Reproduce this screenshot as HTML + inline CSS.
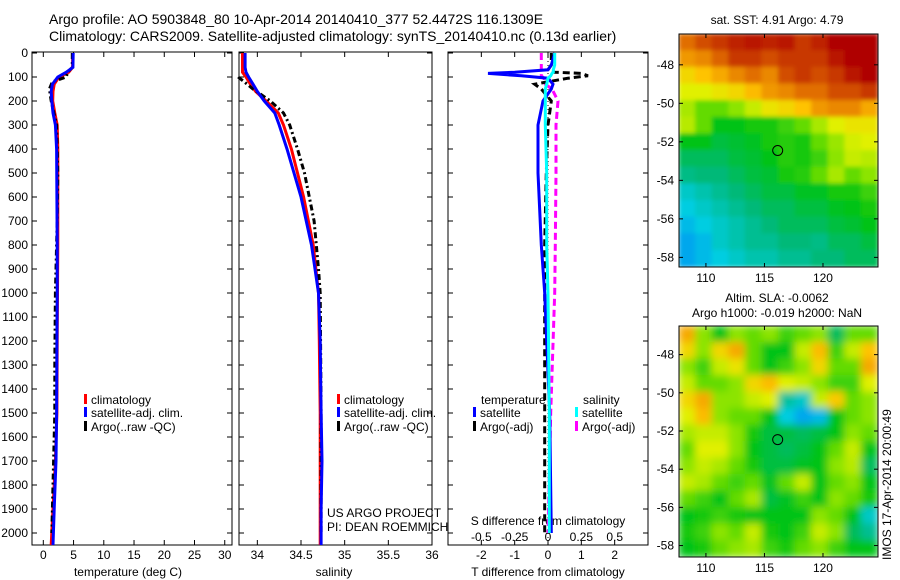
<!DOCTYPE html>
<html><head><meta charset="utf-8"><style>
html,body{margin:0;padding:0;background:#fff;}
svg{display:block;font-family:"Liberation Sans",sans-serif;}
</style></head><body>
<svg id="fig" width="900" height="580" viewBox="0 0 900 580">
<text x="49" y="24" font-size="14">Argo profile: AO 5903848_80 10-Apr-2014 20140410_377 52.4472S 116.1309E</text>
<text x="49" y="41" font-size="14">Climatology: CARS2009. Satellite-adjusted climatology: synTS_20140410.nc (0.13d earlier)</text>
<g id="g1"></g>
<g id="g2"></g>
<g id="g3"></g>
<g id="m1"></g>
<g id="m2"></g>
<text x="777" y="24" font-size="12" text-anchor="middle">sat. SST: 4.91 Argo: 4.79</text>
<text x="777" y="302" font-size="12" text-anchor="middle">Altim. SLA: -0.0062</text>
<text x="777" y="317" font-size="12" text-anchor="middle">Argo h1000: -0.019 h2000: NaN</text>
<text transform="translate(891,560) rotate(-90)" font-size="12">IMOS 17-Apr-2014 20:00:49</text>
</svg>
<script>
// ---- data ----
const depthTicks=[0,100,200,300,400,500,600,700,800,900,1000,1100,1200,1300,1400,1500,1600,1700,1800,1900,2000];
const tTicks=[0,5,10,15,20,25,30];
const sTicks=[34,34.5,35,35.5,36];
const dTTicks=[-2,-1,0,1,2];
const dTLabels=["-2","-1","0","1","2"];
const dSTicks=[-0.5,-0.25,0,0.25,0.5];
const dSLabels=["-0.5","-0.25","0","0.25","0.5"];

const climDepth=[0,60,80,100,130,160,200,250,300,400,600,800,1000,1200,1500,1700,1900,2050];
const climT=[4.85,4.85,4.2,2.6,1.8,1.6,1.55,1.9,2.3,2.4,2.4,2.4,2.35,2.3,2.25,2.0,1.6,1.3];
const satT=[4.95,4.9,3.8,2.4,1.5,1.3,1.4,1.6,2.0,2.2,2.25,2.3,2.3,2.25,2.2,2.1,1.8,1.6];
const argoDepth=[0,60,80,100,120,150,200,300,500,700,1000,1300,1500,1700,1900,2000];
const argoT=[4.8,4.8,4.0,3.8,1.5,1.0,1.3,2.2,2.4,2.3,2.0,1.9,1.9,1.7,1.5,1.4];

const climS=[33.83,33.83,33.83,33.87,33.92,33.98,34.1,34.24,34.3,34.39,34.53,34.64,34.7,34.71,34.72,34.72,34.72,34.72];
const satS=[33.86,33.86,33.87,33.9,33.95,34.0,34.08,34.2,34.25,34.34,34.5,34.62,34.7,34.72,34.73,34.74,34.73,34.73];
const argoSDepth=[100,120,150,200,250,300,400,500,700,900,1000,1500,2000];
const argoS=[33.78,33.85,33.95,34.15,34.3,34.37,34.46,34.54,34.65,34.7,34.72,34.73,34.73];

const diffDepth=[0,50,70,80,85,95,105,130,150,200,300,500,800,1000,1500,2000];
const satDT=[0.2,0.1,0,-1.0,-1.8,-0.8,0,0.15,0.1,-0.15,-0.3,-0.3,-0.2,-0.1,0.05,0.1];
const argoDT=[0.1,0.1,0,0.2,1.0,1.2,0.6,-0.4,-0.2,0.1,0,-0.05,-0.1,-0.1,-0.1,-0.1];
const satDS=[0.05,0.05,0.04,0.04,0.03,0.02,0.0,-0.01,-0.02,-0.02,-0.02,-0.01,-0.01,0,0.01,0.01];
const argoDS=[-0.05,-0.05,-0.05,-0.06,-0.05,-0.05,-0.03,-0.02,0.03,0.075,0.06,0.06,0.055,0.05,0.02,0.0];

const sstGrid=[
[0.85,0.88,0.9,0.92,0.93,0.92,0.93,0.9,0.92,0.95,0.95,0.95],
[0.8,0.82,0.86,0.9,0.9,0.88,0.9,0.9,0.9,0.93,0.95,0.95],
[0.72,0.75,0.78,0.82,0.85,0.82,0.88,0.9,0.88,0.9,0.93,0.95],
[0.68,0.68,0.7,0.72,0.76,0.8,0.82,0.85,0.85,0.88,0.88,0.9],
[0.64,0.6,0.6,0.62,0.66,0.7,0.72,0.75,0.8,0.82,0.82,0.78],
[0.65,0.6,0.55,0.55,0.56,0.56,0.58,0.6,0.64,0.68,0.7,0.7],
[0.55,0.55,0.52,0.53,0.54,0.56,0.57,0.56,0.6,0.63,0.67,0.68],
[0.5,0.5,0.5,0.52,0.53,0.55,0.57,0.56,0.58,0.62,0.66,0.65],
[0.47,0.48,0.48,0.5,0.52,0.53,0.56,0.57,0.6,0.64,0.6,0.62],
[0.42,0.44,0.46,0.48,0.5,0.52,0.52,0.54,0.54,0.56,0.56,0.58],
[0.4,0.42,0.44,0.46,0.48,0.5,0.5,0.52,0.52,0.54,0.55,0.56],
[0.38,0.4,0.42,0.44,0.46,0.48,0.5,0.5,0.5,0.52,0.53,0.55],
[0.36,0.38,0.42,0.44,0.46,0.46,0.48,0.48,0.47,0.5,0.5,0.52],
[0.36,0.38,0.4,0.42,0.44,0.44,0.46,0.46,0.48,0.48,0.5,0.5]];
const slaGrid=[
[0.78,0.62,0.55,0.62,0.6,0.62,0.58,0.6,0.62,0.5,0.6,0.6],
[0.72,0.62,0.72,0.78,0.6,0.55,0.55,0.66,0.76,0.58,0.66,0.75],
[0.62,0.58,0.66,0.7,0.6,0.55,0.58,0.62,0.72,0.6,0.6,0.78],
[0.66,0.6,0.6,0.62,0.72,0.76,0.68,0.66,0.62,0.58,0.58,0.68],
[0.72,0.78,0.62,0.62,0.66,0.68,0.45,0.42,0.66,0.74,0.6,0.62],
[0.68,0.76,0.62,0.6,0.6,0.55,0.4,0.36,0.38,0.55,0.6,0.62],
[0.64,0.66,0.66,0.62,0.56,0.52,0.52,0.5,0.52,0.55,0.62,0.6],
[0.6,0.68,0.68,0.62,0.55,0.52,0.5,0.52,0.55,0.6,0.66,0.55],
[0.62,0.66,0.64,0.6,0.56,0.52,0.52,0.54,0.55,0.62,0.65,0.5],
[0.66,0.64,0.6,0.58,0.6,0.54,0.6,0.66,0.55,0.6,0.62,0.55],
[0.6,0.58,0.55,0.6,0.64,0.52,0.54,0.58,0.55,0.62,0.6,0.56],
[0.55,0.56,0.58,0.56,0.55,0.55,0.55,0.55,0.62,0.6,0.55,0.42],
[0.56,0.58,0.62,0.6,0.66,0.56,0.55,0.58,0.66,0.62,0.5,0.46],
[0.55,0.56,0.6,0.62,0.64,0.58,0.56,0.6,0.62,0.58,0.55,0.55]];
const lonTicks=[110,115,120];
const latTicks=[-48,-50,-52,-54,-56,-58];
const floatLon=116.13, floatLat=-52.45;

// ---- helpers ----
const NS="http://www.w3.org/2000/svg";
function mk(parent,tag,attrs){const e=document.createElementNS(NS,tag);for(const k in attrs)e.setAttribute(k,attrs[k]);parent.appendChild(e);return e;}
function txt(parent,x,y,s,anchor,size){const t=mk(parent,'text',{x:x,y:y,'font-size':size||12,'text-anchor':anchor||'start'});t.textContent=s;return t;}
const Y0=53,Y1=545;
function yD(d){return Y0+d*0.24;}
function linear(d0,d1,r0,r1){return v=>r0+(v-d0)/(d1-d0)*(r1-r0);}

function frame(g,x0,x1){
  const r=mk(g,'rect',{x:x0,y:Y0-1,width:x1-x0,height:Y1-Y0+1,fill:'none',stroke:'#000','stroke-width':1});
  
  
  depthTicks.forEach(d=>{mk(g,'line',{x1:x0,x2:x0+5,y1:yD(d),y2:yD(d),stroke:'#000'});mk(g,'line',{x1:x1,x2:x1-5,y1:yD(d),y2:yD(d),stroke:'#000'});});
}
function xticks(g,vals,labels,sx,ly){
  vals.forEach((v,i)=>{const x=sx(v);mk(g,'line',{x1:x,x2:x,y1:Y1,y2:Y1-5,stroke:'#000'});mk(g,'line',{x1:x,x2:x,y1:Y0-1,y2:Y0+4,stroke:'#000'});
    const t=txt(g,x,ly,labels[i],'middle');});
}
function path(g,xs,ds,sx,color,w,dash,name){
  let s='';xs.forEach((v,i)=>{s+=(i?'L':'M')+sx(v).toFixed(1)+','+yD(ds[i]).toFixed(1);});
  const p=mk(g,'path',{d:s,fill:'none',stroke:color,'stroke-width':w});
  if(dash)p.setAttribute('stroke-dasharray',dash);
  
  
}
function legend(g,x,y,color,label,name){
  mk(g,'rect',{x:x,y:y-10,width:3,height:10,fill:color});
  const t=txt(g,x+7,y,label);
  
  
}

// ---- panel 1 ----
const g1=document.getElementById('g1');
const sx1=linear(-1.87,31.2,32,232);
frame(g1,32,232);
depthTicks.forEach(d=>{const t=txt(g1,28,yD(d)+4,String(d),'end');});
xticks(g1,tTicks,tTicks.map(String),sx1,559);
path(g1,climT,climDepth,sx1,'#f00',3,null,'climatology-temperature-line');
path(g1,argoT,argoDepth,sx1,'#000',3,'6,3,2,3','argo-temperature-line');
path(g1,satT,climDepth,sx1,'#00f',3,null,'satellite-temperature-line');
legend(g1,84,404,'#f00','climatology','legend-climatology');
legend(g1,84,417,'#00f','satellite-adj. clim.','legend-satellite');
legend(g1,84,431,'#000','Argo(..raw -QC)','legend-argo');
{const t=txt(g1,128,576,'temperature (deg C)','middle');}

// ---- panel 2 ----
const g2=document.getElementById('g2');
const sx2=linear(33.79,36,239,432);
frame(g2,239,432);
xticks(g2,sTicks,sTicks.map(String),sx2,559);
path(g2,climS,climDepth,sx2,'#f00',3,null,'climatology-salinity-line');
path(g2,argoS,argoSDepth,sx2,'#000',3,'6,3,2,3','argo-salinity-line');
path(g2,satS,climDepth,sx2,'#00f',3,null,'satellite-salinity-line');
legend(g2,337,404,'#f00','climatology','legend-climatology');
legend(g2,337,417,'#00f','satellite-adj. clim.','legend-satellite');
legend(g2,337,431,'#000','Argo(..raw -QC)','legend-argo');
txt(g2,327,517,'US ARGO PROJECT');
txt(g2,327,531,'PI: DEAN ROEMMICH');
{const t=txt(g2,334,576,'salinity','middle');}

// ---- panel 3 ----
const g3=document.getElementById('g3');
const sxT=linear(-3,3,448,648);
const sxS=linear(-0.75,0.75,448,648);
frame(g3,448,648);
xticks(g3,dTTicks,dTLabels,sxT,559);
dSTicks.forEach((v,i)=>{const t=txt(g3,sxS(v),541,dSLabels[i],'middle');});
txt(g3,548,525,'S difference from climatology','middle');
mk(g3,'line',{x1:sxT(0),x2:sxT(0),y1:Y0,y2:Y1,stroke:'#000','stroke-dasharray':'1,3'});
path(g3,argoDT,diffDepth,sxT,'#000',3,'7,4','argo-t-diff-line');
path(g3,argoDS,diffDepth,sxS,'#f0f',3,'7,4','argo-s-diff-line');
path(g3,satDT,diffDepth,sxT,'#00f',3,null,'satellite-t-diff-line');
path(g3,satDS,diffDepth,sxS,'#0ff',3,null,'satellite-s-diff-line');
txt(g3,481,404,'temperature');
legend(g3,473,417,'#00f','satellite','legend-t-satellite');
legend(g3,473,431,'#000','Argo(-adj)','legend-t-argo');
txt(g3,583,404,'salinity');
legend(g3,575,417,'#0ff','satellite','legend-s-satellite');
legend(g3,575,431,'#f0f','Argo(-adj)','legend-s-argo');
{const t=txt(g3,548,576,'T difference from climatology','middle');}

// ---- maps ----
const cmapStops=[[0.30,0,110,255],[0.40,0,205,225],[0.48,0,185,120],[0.55,0,195,20],[0.62,140,228,0],[0.68,225,240,0],[0.75,255,195,0],[0.85,225,110,0],[0.95,175,0,0]];
function cmap(v){
  if(v<=cmapStops[0][0])return `rgb(${cmapStops[0][1]},${cmapStops[0][2]},${cmapStops[0][3]})`;
  for(let i=1;i<cmapStops.length;i++){
    if(v<=cmapStops[i][0]){const a=cmapStops[i-1],b=cmapStops[i],t=(v-a[0])/(b[0]-a[0]);
      return `rgb(${Math.round(a[1]+t*(b[1]-a[1]))},${Math.round(a[2]+t*(b[2]-a[2]))},${Math.round(a[3]+t*(b[3]-a[3]))})`;}
  }
  const l=cmapStops[cmapStops.length-1];return `rgb(${l[1]},${l[2]},${l[3]})`;
}
function drawMap(id,grid,top,bot,latTop,latBot,blur){
  const g=document.getElementById(id);
  const L=679,R=878,lon0=107.7,lon1=124.7;
  const sx=linear(lon0,lon1,L,R), sy=linear(latTop,latBot,top,bot);
  const rows=grid.length, cols=grid[0].length;
  const cw=(R-L)/cols, ch=(bot-top)/rows;
  const cg=mk(g,'g',{});
  if(blur){
    const f=mk(g,'filter',{id:id+'f',x:0,y:0,width:1,height:1});
    mk(f,'feGaussianBlur',{stdDeviation:blur});
    cg.setAttribute('filter','url(#'+id+'f)');
  }
  const clip=mk(g,'clipPath',{id:id+'c'});mk(clip,'rect',{x:L,y:top,width:R-L,height:bot-top});
  const wrap=mk(g,'g',{'clip-path':'url(#'+id+'c)'});wrap.appendChild(cg);
  grid.forEach((row,i)=>row.forEach((v,j)=>{
    const c=mk(cg,'rect',{x:L+j*cw-0.5,y:top+i*ch-0.5,width:cw+1,height:ch+1,fill:cmap(v)});
    
    
  }));
  mk(g,'rect',{x:L,y:top,width:R-L,height:bot-top,fill:'none',stroke:'#000'});
  lonTicks.forEach(v=>{const x=sx(v);mk(g,'line',{x1:x,x2:x,y1:bot,y2:bot-4,stroke:'#000'});mk(g,'line',{x1:x,x2:x,y1:top,y2:top+4,stroke:'#000'});
    const t=txt(g,x,bot+15,String(v),'middle');});
  latTicks.forEach(v=>{const y=sy(v);mk(g,'line',{x1:L,x2:L+4,y1:y,y2:y,stroke:'#000'});mk(g,'line',{x1:R,x2:R-4,y1:y,y2:y,stroke:'#000'});
    const t=txt(g,674,y+4,String(v),'end');});
  const c=mk(g,'circle',{cx:sx(floatLon),cy:sy(floatLat),r:5,fill:'none',stroke:'#000'});
  
  
}
drawMap('m1',sstGrid,34,267,-46.4,-58.5,2);
drawMap('m2',slaGrid,326,557,-46.5,-58.6,4);
</script>
</body></html>
